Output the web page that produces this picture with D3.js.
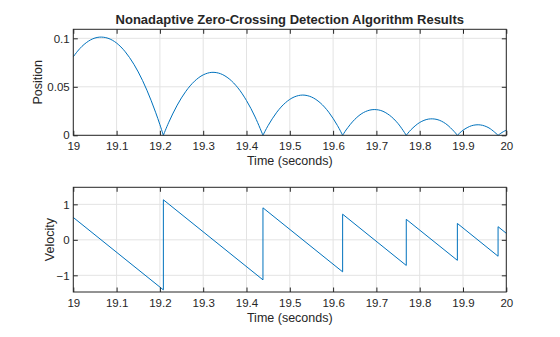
<!DOCTYPE html>
<html>
<head>
<meta charset="utf-8">
<script src="https://cdn.jsdelivr.net/npm/d3@7"></script>
<style>
  body { margin: 0; background: #fff; }
  text { font-family: "Liberation Sans", Arial, sans-serif; fill: #262626; }
</style>
</head>
<body>
<svg id="chart" width="560" height="337"></svg>
<script>
// tick labels
const timeTicks = [19, 19.1, 19.2, 19.3, 19.4, 19.5, 19.6, 19.7, 19.8, 19.9, 20]
const posTicks = [0, 0.05, 0.1]
const velTicks = [-1, 0, 1]

// position, one arc per bounce [time, position]
const arc0 = [[19.00, 0.0810], [19.01, 0.0868], [19.02, 0.0917], [19.03, 0.0955], [19.04, 0.0984],
  [19.05, 0.1003], [19.06, 0.1012], [19.07, 0.1011], [19.08, 0.1001], [19.09, 0.0981], [19.10, 0.0951],
  [19.11, 0.0911], [19.12, 0.0861], [19.13, 0.0801], [19.14, 0.0732], [19.15, 0.0653], [19.16, 0.0564],
  [19.17, 0.0465], [19.18, 0.0356], [19.19, 0.0238], [19.20, 0.0110], [19.208, 0]]
const arc1 = [[19.208, 0], [19.22, 0.0129], [19.24, 0.0311], [19.26, 0.0454], [19.28, 0.0558], [19.30, 0.0623],
  [19.32, 0.0649], [19.34, 0.0635], [19.36, 0.0582], [19.38, 0.0490], [19.40, 0.0358], [19.42, 0.0188], [19.438, 0]]
const arc2 = [[19.438, 0], [19.45, 0.0101], [19.47, 0.0238], [19.49, 0.0336], [19.51, 0.0395], [19.53, 0.0415],
  [19.55, 0.0395], [19.57, 0.0336], [19.59, 0.0238], [19.61, 0.0101], [19.622, 0]]
const arc3 = [[19.622, 0], [19.63, 0.0055], [19.65, 0.0164], [19.67, 0.0234], [19.69, 0.0264], [19.71, 0.0256],
  [19.73, 0.0208], [19.75, 0.0121], [19.769, 0]]
const arc4 = [[19.769, 0], [19.78, 0.0058], [19.80, 0.0132], [19.82, 0.0167], [19.84, 0.0163], [19.86, 0.0120],
  [19.88, 0.0037], [19.887, 0]]
const arc5 = [[19.887, 0], [19.90, 0.0052], [19.92, 0.0099], [19.94, 0.0107], [19.96, 0.0076], [19.981, 0]]
const arc6 = [[19.981, 0], [19.99, 0.0029], [20.00, 0.0053]]

// velocity
const velTime = [19.00, 19.208, 19.208, 19.438, 19.438, 19.622, 19.622, 19.769, 19.769, 19.887, 19.887, 19.981, 19.981, 20.00]
const velValue = [0.63, -1.41, 1.128, -1.128, 0.902, -0.902, 0.722, -0.722, 0.578, -0.578, 0.462, -0.462, 0.370, 0.184]

const lineColor = '#0072bd'
const inkColor = '#262626'
const gridColor = '#e3e3e3'

const svg = d3.select('#chart')

const left = 73.3
const right = 506.3
const x = d3.scaleLinear().domain([19, 20]).range([left, right])

function drawPanel (opts) {
  const y = d3.scaleLinear().domain(opts.yDomain).range([opts.bottom, opts.top])
  const g = svg.append('g')

  // grid
  g.selectAll('.vgrid').data(timeTicks).enter().append('line')
    .attr('x1', d => x(d)).attr('x2', d => x(d))
    .attr('y1', opts.top).attr('y2', opts.bottom)
    .attr('stroke', gridColor).attr('stroke-width', 1)
  g.selectAll('.hgrid').data(opts.yTicks).enter().append('line')
    .attr('x1', left).attr('x2', right)
    .attr('y1', d => y(d)).attr('y2', d => y(d))
    .attr('stroke', gridColor).attr('stroke-width', 1)

  // data
  opts.draw(g, y)

  // inward ticks on all four sides
  const xb = g.append('g').attr('transform', `translate(0,${opts.bottom})`)
    .call(d3.axisBottom(x).tickValues(timeTicks).tickFormat(d3.format('~g'))
      .tickSizeInner(-4.5).tickSizeOuter(0).tickPadding(6.4))
  const xt = g.append('g').attr('transform', `translate(0,${opts.top})`)
    .call(d3.axisTop(x).tickValues(timeTicks).tickFormat('')
      .tickSizeInner(-4.5).tickSizeOuter(0))
  const yl = g.append('g').attr('transform', `translate(${left},0)`)
    .call(d3.axisLeft(y).tickValues(opts.yTicks).tickFormat(d3.format('~g'))
      .tickSizeInner(-4.5).tickSizeOuter(0).tickPadding(3.6))
  const yr = g.append('g').attr('transform', `translate(${right},0)`)
    .call(d3.axisRight(y).tickValues(opts.yTicks).tickFormat('')
      .tickSizeInner(-4.5).tickSizeOuter(0))
  ;[xb, xt, yl, yr].forEach(a => {
    a.select('.domain').remove()
    a.selectAll('line').attr('stroke', inkColor)
    a.selectAll('text').style('font-size', '11.5px').style('font-family', '"Liberation Sans", Arial, sans-serif').attr('fill', inkColor)
  })

  g.append('rect')
    .attr('x', left).attr('y', opts.top)
    .attr('width', right - left).attr('height', opts.bottom - opts.top)
    .attr('fill', 'none').attr('stroke', inkColor).attr('stroke-width', 1)

  g.append('text')
    .attr('x', (left + right) / 2).attr('y', opts.bottom + 29.5)
    .attr('text-anchor', 'middle').style('font-size', '12.5px')
    .text('Time (seconds)')
  g.append('text')
    .attr('transform', `translate(${opts.yLabelX},${(opts.top + opts.bottom) / 2}) rotate(-90)`)
    .attr('text-anchor', 'middle').style('font-size', '12.5px')
    .text(opts.yLabel)
}

drawPanel({
  top: 29.3,
  bottom: 135.3,
  yDomain: [0, 0.1093],
  yTicks: posTicks,
  yLabel: 'Position',
  yLabelX: 42.3,
  draw: (g, y) => {
    const line = d3.line().x(d => x(d[0])).y(d => y(d[1])).curve(d3.curveCatmullRom.alpha(0.5))
    g.selectAll('.arc').data([arc0, arc1, arc2, arc3, arc4, arc5, arc6]).enter().append('path')
      .attr('d', line).attr('fill', 'none').attr('stroke', lineColor).attr('stroke-width', 1)
  }
})

drawPanel({
  top: 187.3,
  bottom: 292,
  yDomain: [-1.47, 1.48],
  yTicks: velTicks,
  yLabel: 'Velocity',
  yLabelX: 53.6,
  draw: (g, y) => {
    const line = d3.line().x(i => x(velTime[i])).y(i => y(velValue[i]))
    g.append('path').datum(d3.range(velTime.length))
      .attr('d', line).attr('fill', 'none').attr('stroke', lineColor).attr('stroke-width', 1)
  }
})

svg.append('text')
  .attr('x', (left + right) / 2).attr('y', 24.3)
  .attr('text-anchor', 'middle')
  .style('font-size', '13px').style('font-weight', 'bold')
  .text('Nonadaptive Zero-Crossing Detection Algorithm Results')
</script>
</body>
</html>
